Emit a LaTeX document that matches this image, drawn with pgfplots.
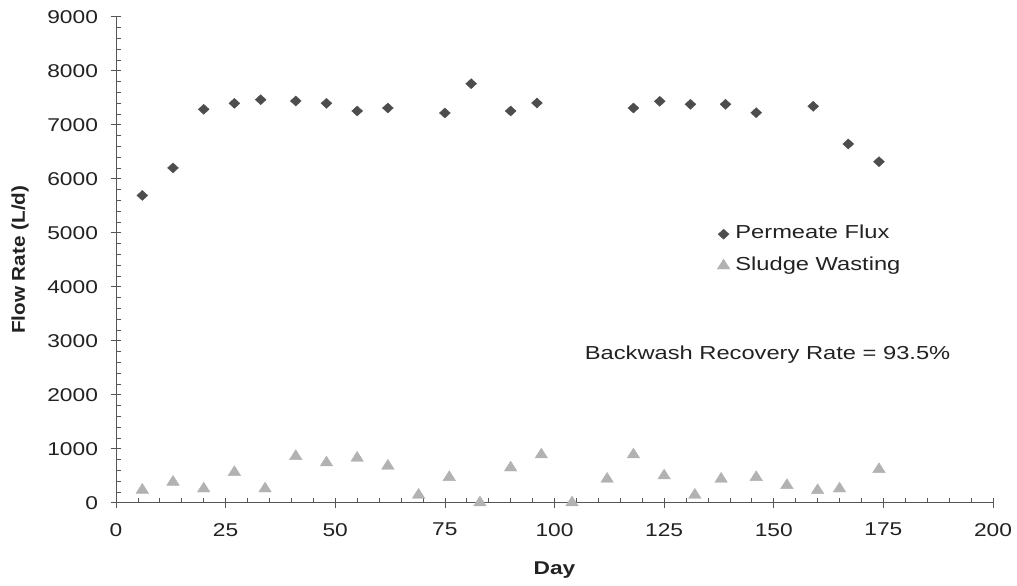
\documentclass[border=0pt]{standalone}
\usepackage{fontspec}
\setmainfont[FakeStretch=1.23]{Liberation Sans}
\newfontfamily\txtfont[FakeStretch=1.26]{Liberation Sans}
\newfontfamily\ylabfont[FakeStretch=1.12]{Liberation Sans}
\usepackage{pgfplots}
\pgfplotsset{compat=1.18}

\definecolor{fluxgray}{HTML}{4D4D4D}
\definecolor{sludgegray}{HTML}{B2B2B2}
\definecolor{txt}{HTML}{222222}
\definecolor{axisgray}{HTML}{555555}
\newcommand{\fs}{\fontsize{18.5pt}{22pt}\selectfont}
\newcommand{\ft}{\txtfont\fontsize{18.8pt}{22pt}\selectfont}

\begin{document}
\begin{tikzpicture}
\begin{axis}[
    at={(0,0)}, anchor=south west,
    scale only axis,
    width=877pt, height=486pt,
    xmin=0, xmax=200, ymin=0, ymax=9000,
    clip=false,
    axis lines*=left,
    axis line style={-, axisgray, line width=0.8pt},
    xtick distance=25, ytick distance=1000,
    minor x tick num=4, minor y tick num=4,
    tick align=center,
    major tick length=10pt, minor tick length=4.6pt,
    tick style={axisgray, line width=0.7pt},
    minor x tick style={yshift=2.3pt},
    minor y tick style={xshift=2.4pt},
    tick label style={font=\fs, text=txt},
    xticklabel style={yshift=-12pt},
    yticklabel style={xshift=-9.5pt},
    /pgf/number format/assume math mode=true,
    /pgf/number format/1000 sep={},
    xlabel={\bfseries Day},
    ylabel={\ylabfont\bfseries Flow Rate (L/d)},
    xlabel style={at={(axis description cs:0.5,-0.139)}, anchor=center, font=\fs, text=txt},
    ylabel style={at={(axis description cs:-0.1095,0.5)}, anchor=center, rotate=0, font=\fontsize{18.5pt}{22pt}\selectfont, text=txt},
    legend cell align=left,
    legend style={draw=none, fill=none, at={(0.682,0.575)}, anchor=north west,
        font=\ft, text=txt, column sep=5.5pt, row sep=14pt,
        nodes={inner sep=0pt, text height=13.5pt, text depth=4pt}},
]

\addplot[only marks, mark=diamond*, mark size=5pt,
    mark options={xscale=1.45, fill=fluxgray, draw=fluxgray}] coordinates {
    (6,5690) (13,6200) (20,7285) (27,7396) (33,7463) (41,7439) (48,7396)
    (55,7254) (62,7309) (75,7217) (81,7759) (90,7254) (96,7402)
    (118,7309) (124,7433) (131,7378) (139,7378) (146,7222) (159,7341)
    (167,6643) (174,6315)
};
\addlegendentry{Permeate Flux}

\addplot[only marks, mark=triangle*, mark size=6.6pt,
    mark options={xscale=1.1, fill=sludgegray, draw=sludgegray}] coordinates {
    (6,235) (13,383) (20,259) (27,563) (34,259) (41,859) (48,741)
    (55,828) (62,680) (69,143) (76,470) (83,0) (90,648) (97,889)
    (104,0) (112,439) (118,889) (125,500) (132,143) (138,439)
    (146,470) (153,322) (160,229) (165,259) (174,618)
};
\addlegendentry{Sludge Wasting}

\node[font=\ft, text=txt, anchor=base] at (axis cs:148.6,2643)
    {Backwash Recovery Rate = 93.5\%};
\end{axis}
\pgfresetboundingbox
\useasboundingbox (-116pt,-83.3pt) rectangle (901pt,502.7pt);
\end{tikzpicture}
\end{document}
